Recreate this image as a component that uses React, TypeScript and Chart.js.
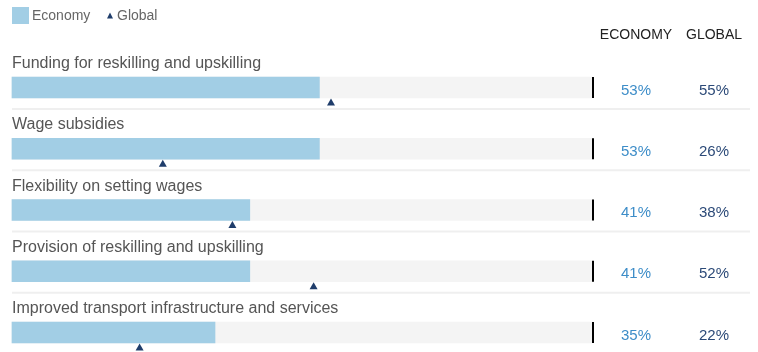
import React, { useEffect, useRef } from "react";
import { Chart, registerables } from "chart.js";

Chart.register(...registerables);

const categories = [
  "Funding for reskilling and upskilling",
  "Wage subsidies",
  "Flexibility on setting wages",
  "Provision of reskilling and upskilling",
  "Improved transport infrastructure and services",
];
const economy = [53, 53, 41, 41, 35];
const global = [55, 26, 38, 52, 22];
const scaleMax = 100;
const legendLabels = ["Economy", "Global"];
const columnHeaders = ["ECONOMY", "GLOBAL"];

const BAR_COLOR = "#a2cee5";
const TRACK_COLOR = "#f4f4f4";
const TRI_COLOR = "#1f3d6b";
const ECON_TEXT = "#3d8dc8";
const GLOBAL_TEXT = "#2c4a78";
const FONT = '"Liberation Sans", Arial, Helvetica, sans-serif';
const BAR_H = 21;
const COL_ECON_X = 636;
const COL_GLOBAL_X = 714;

function drawTriangle(ctx: CanvasRenderingContext2D, cx: number, top: number, w: number, h: number) {
  ctx.beginPath();
  ctx.moveTo(cx, top);
  ctx.lineTo(cx + w / 2, top + h);
  ctx.lineTo(cx - w / 2, top + h);
  ctx.closePath();
  ctx.fill();
}

const overlayPlugin = {
  id: "overlay",
  afterDatasetsDraw(chart: any) {
    const ctx: CanvasRenderingContext2D = chart.ctx;
    const xs = chart.scales.x;
    const ys = chart.scales.y;
    ctx.save();

    // legend
    ctx.fillStyle = BAR_COLOR;
    ctx.fillRect(12, 7, 17, 17);
    ctx.font = `14px ${FONT}`;
    ctx.textBaseline = "middle";
    ctx.textAlign = "left";
    ctx.fillStyle = "#666";
    ctx.fillText(legendLabels[0], 32, 16);
    ctx.fillStyle = TRI_COLOR;
    drawTriangle(ctx, 110, 12.5, 6, 6);
    ctx.fillStyle = "#666";
    ctx.fillText(legendLabels[1], 117, 16);

    // column headers
    ctx.fillStyle = "#222";
    ctx.font = `14px ${FONT}`;
    ctx.textAlign = "center";
    ctx.fillText(columnHeaders[0], COL_ECON_X, 35);
    ctx.fillText(columnHeaders[1], COL_GLOBAL_X, 35);

    const endX = xs.getPixelForValue(scaleMax);
    categories.forEach((cat, i) => {
      const yc = ys.getPixelForValue(i);
      // category label
      ctx.fillStyle = "#555";
      ctx.font = `16px ${FONT}`;
      ctx.textAlign = "left";
      ctx.textBaseline = "alphabetic";
      ctx.fillText(cat, 12, yc - 19.5);
      // end marker
      ctx.fillStyle = "#000";
      ctx.fillRect(endX, yc - BAR_H / 2, 2, BAR_H);
      // global triangle
      ctx.fillStyle = TRI_COLOR;
      drawTriangle(ctx, xs.getPixelForValue(global[i]), yc + BAR_H / 2 + 0.5, 8, 7);
      // values
      ctx.font = `15px ${FONT}`;
      ctx.textAlign = "center";
      ctx.textBaseline = "middle";
      ctx.fillStyle = ECON_TEXT;
      ctx.fillText(`${economy[i]}%`, COL_ECON_X, yc + 3);
      ctx.fillStyle = GLOBAL_TEXT;
      ctx.fillText(`${global[i]}%`, COL_GLOBAL_X, yc + 3);
      // separator
      if (i < categories.length - 1) {
        ctx.fillStyle = "#efefef";
        ctx.fillRect(12, yc + 20.5, 738, 2);
      }
    });
    ctx.restore();
  },
};

export default function App() {
  const ref = useRef<HTMLCanvasElement>(null);
  useEffect(() => {
    if (!ref.current) return;
    const chart = new Chart(ref.current, {
      type: "bar",
      data: {
        labels: categories,
        datasets: [
          {
            label: legendLabels[0],
            data: economy,
            backgroundColor: BAR_COLOR,
            barThickness: BAR_H,
            grouped: false,
            order: 0,
            clip: false,
          } as any,
          {
            label: "track",
            data: categories.map(() => scaleMax),
            backgroundColor: TRACK_COLOR,
            barThickness: BAR_H,
            grouped: false,
            order: 1,
            clip: false,
          } as any,
        ],
      },
      options: {
        indexAxis: "y",
        animation: false,
        responsive: false,
        maintainAspectRatio: false,
        layout: { padding: { left: 12, right: 166, top: 87.5, bottom: 19.5 } },
        scales: {
          x: { min: 0, max: scaleMax, display: false },
          y: { type: "category", offset: false, display: false },
        },
        plugins: { legend: { display: false }, tooltip: { enabled: false } },
      },
      plugins: [overlayPlugin],
    });
    return () => chart.destroy();
  }, []);
  return (
    <div style={{ position: "absolute", left: 0, top: 0, width: 758, height: 352, background: "#fff" }}>
      <canvas ref={ref} width={758} height={352} style={{ width: 758, height: 352 }} />
    </div>
  );
}
